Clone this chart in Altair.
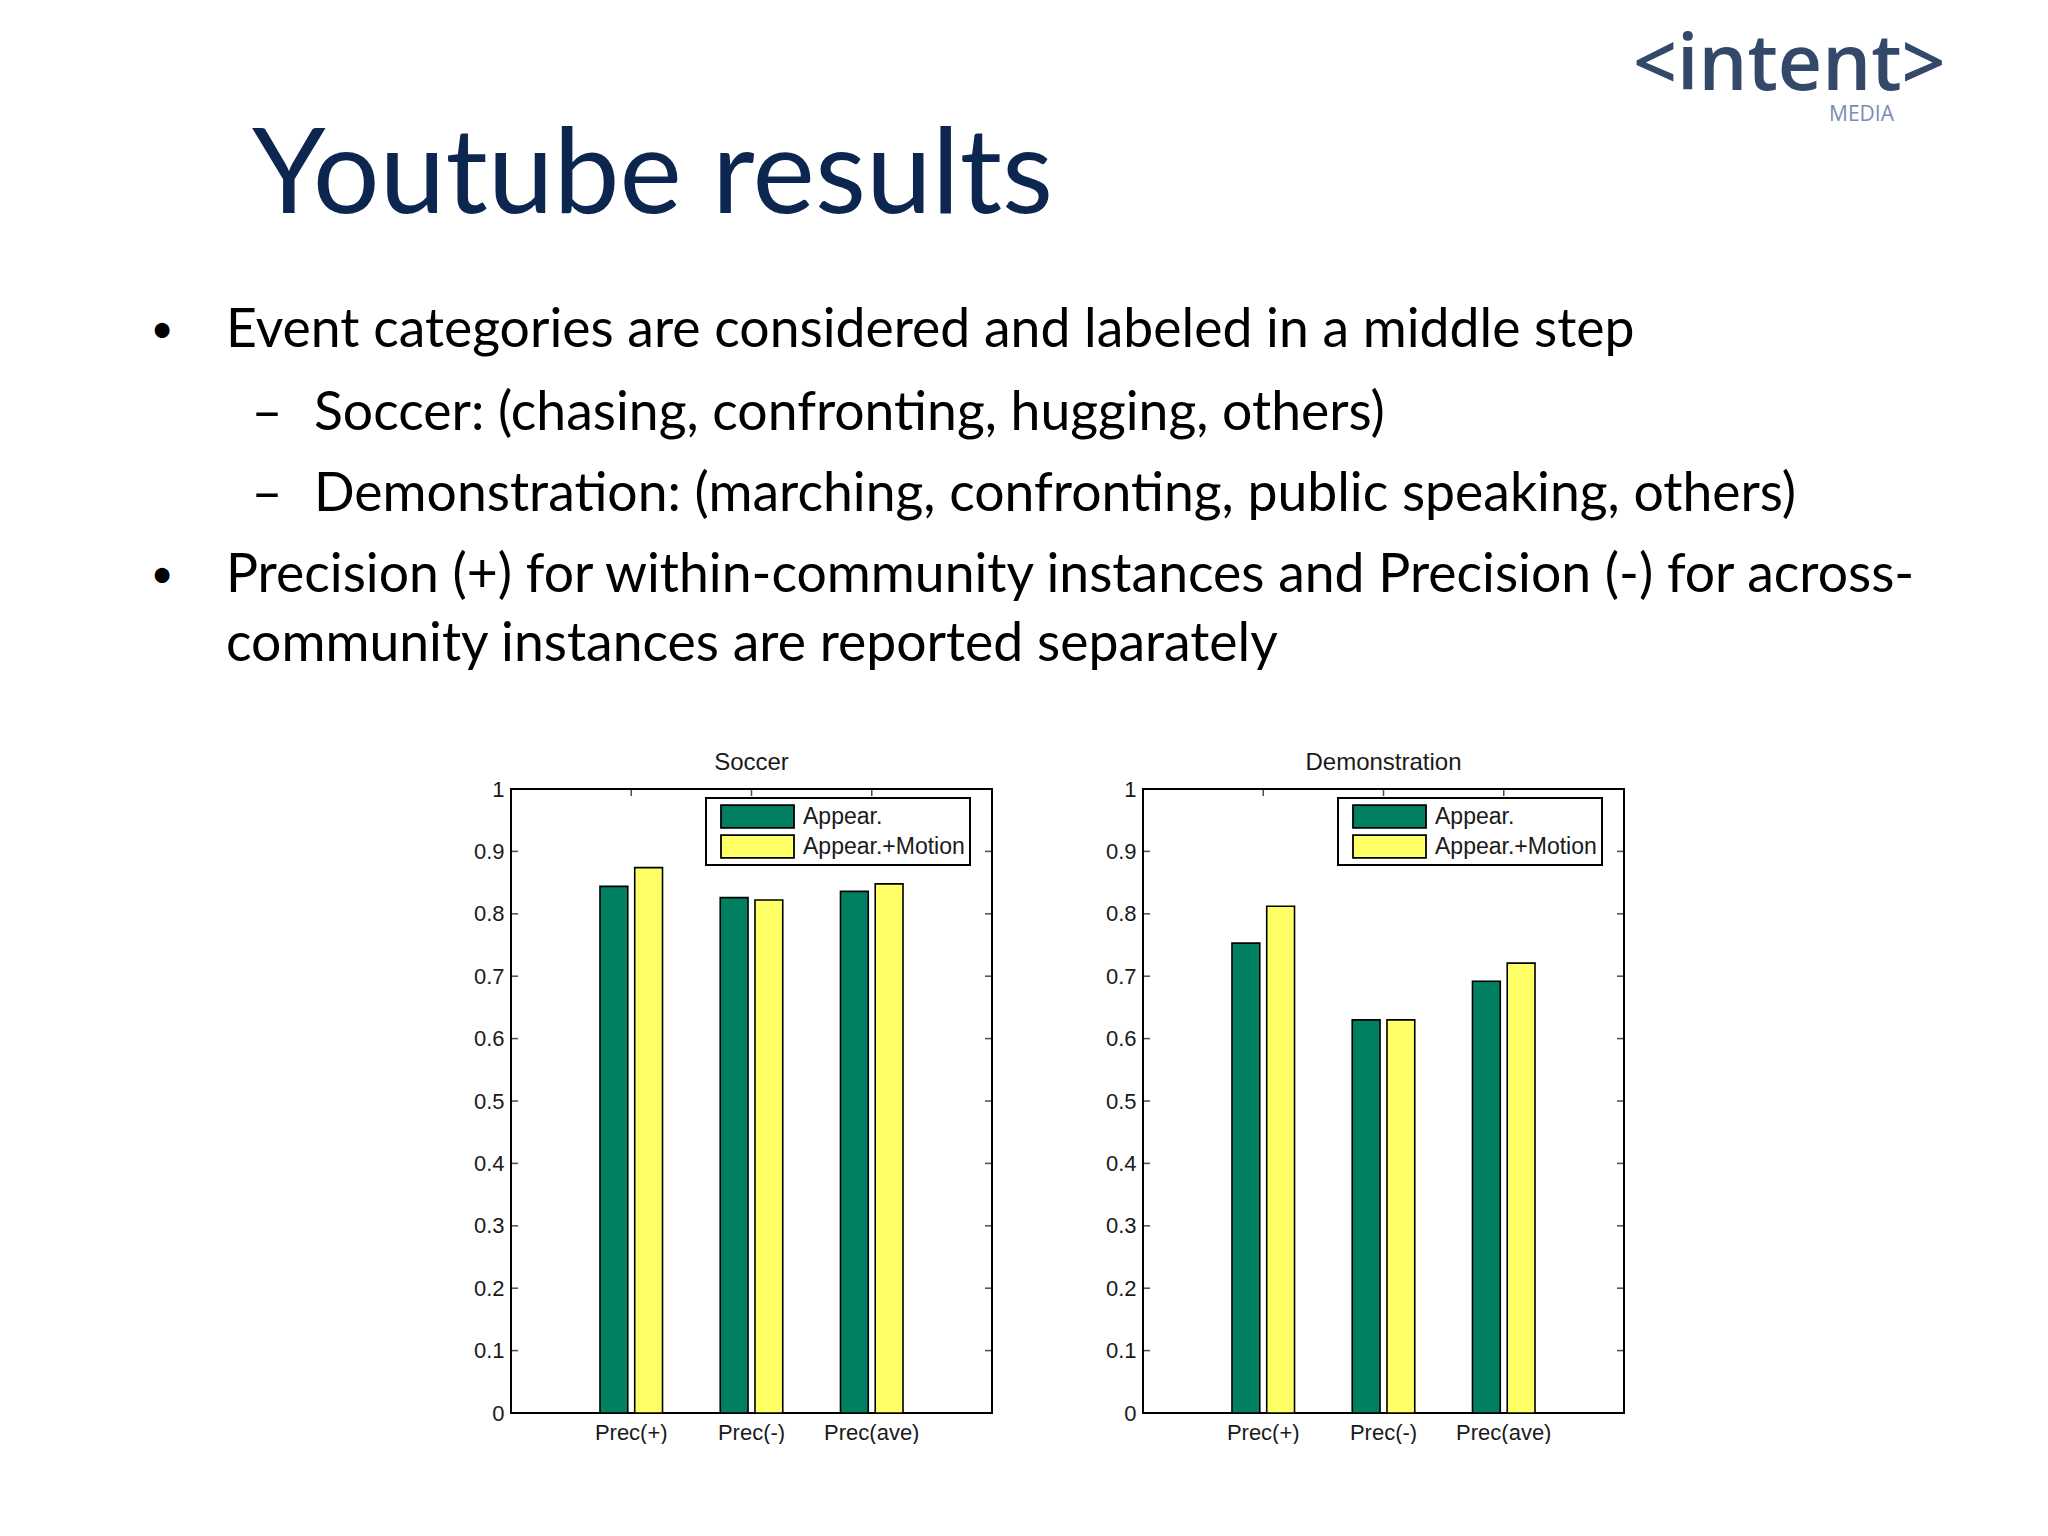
import altair as alt
import pandas as pd

# ---------------- data ----------------
categories = ["Prec(+)", "Prec(-)", "Prec(ave)"]
methods = ["Appear.", "Appear.+Motion"]
soccer_appear = [0.844, 0.826, 0.836]
soccer_motion = [0.874, 0.822, 0.848]
demo_appear = [0.753, 0.630, 0.692]
demo_motion = [0.812, 0.630, 0.721]
y_tick_values = [0, 0.1, 0.2, 0.3, 0.4, 0.5, 0.6, 0.7, 0.8, 0.9, 1.0]
bar_colors = ["#008060", "#ffff66"]

slide_title = "Youtube results"
bullet_lines = [
    "Event categories are considered and labeled in a middle step",
    "Soccer: (chasing, confronting, hugging, others)",
    "Demonstration: (marching, confronting, public speaking, others)",
    "Precision (+) for within-community instances and Precision (-) for across-",
    "community instances are reported separately",
]

PW, PH = 481, 624
AX_FONT = "Liberation Sans"
LBL = 22


def make_df(a, m):
    rows = []
    for c, va, vm in zip(categories, a, m):
        rows.append({"metric": c, "method": methods[0], "value": va})
        rows.append({"metric": c, "method": methods[1], "value": vm})
    return pd.DataFrame(rows)


def panel(title, a, m):
    df = make_df(a, m)
    xscale = alt.Scale(domain=categories, paddingInner=0.48, paddingOuter=0.74)
    xaxis = alt.Axis(title=None, labelAngle=0, ticks=False, domain=False,
                     labelFontSize=LBL, labelPadding=9, labelColor="#1a1a1a",
                     labelFont=AX_FONT)
    yscale = alt.Scale(domain=[0, 1], nice=False, zero=True)
    yaxis = alt.Axis(values=y_tick_values, format=".1~f", title=None, grid=False,
                     ticks=False, domain=False, labelFontSize=LBL, labelPadding=7,
                     labelColor="#1a1a1a", labelFont=AX_FONT)
    bars = alt.Chart(df).mark_bar(stroke="black", strokeWidth=1.6).encode(
        x=alt.X("metric:N", sort=categories, scale=xscale, axis=xaxis),
        xOffset=alt.XOffset("method:N", sort=methods, scale=alt.Scale(paddingInner=0.2)),
        y=alt.Y("value:Q", scale=yscale, axis=yaxis),
        color=alt.Color(
            "method:N", sort=methods,
            scale=alt.Scale(domain=methods, range=bar_colors),
            legend=alt.Legend(
                orient="none", legendX=195, legendY=9, title=None,
                strokeColor="black", fillColor="white", padding=5,
                symbolType="M-1,-0.31H1V0.31H-1Z", symbolSize=5329,
                symbolOffset=9,
                symbolStrokeColor="black", symbolStrokeWidth=1.8,
                symbolOpacity=1, labelFontSize=23, labelFont=AX_FONT,
                labelColor="#1a1a1a", labelOffset=8, labelLimit=400,
                rowPadding=3, clipHeight=27,
            ),
        ),
    )
    tick_df = pd.DataFrame({"v": y_tick_values})
    left_ticks = alt.Chart(tick_df).mark_tick(
        orient="horizontal", size=7, thickness=1.5, color="black"
    ).encode(y=alt.Y("v:Q", scale=yscale, axis=yaxis), x=alt.value(3.5))
    right_ticks = alt.Chart(tick_df).mark_tick(
        orient="horizontal", size=7, thickness=1.5, color="black"
    ).encode(y=alt.Y("v:Q", scale=yscale, axis=yaxis), x=alt.value(PW - 3.5))
    cat_df = pd.DataFrame({"metric": categories})
    top_ticks = alt.Chart(cat_df).mark_tick(
        orient="vertical", size=7, thickness=1.5, color="black"
    ).encode(x=alt.X("metric:N", sort=categories, scale=xscale, axis=xaxis),
             y=alt.value(3.5))
    return alt.layer(bars, left_ticks, right_ticks, top_ticks).properties(
        width=PW, height=PH,
        title=alt.TitleParams(title, fontSize=24, fontWeight="normal",
                              font=AX_FONT, color="#1a1a1a", offset=3),
        view=alt.ViewBackground(stroke="black", strokeWidth=2),
    )


one = alt.Data(values=[{"k": 1}])


def label(s, x, y, size, color="black", font="Lato", weight="normal", align="left"):
    return alt.Chart(one).mark_text(
        text=s, fontSize=size, font=font, fontWeight=weight, color=color,
        align=align, baseline="alphabetic"
    ).encode(x=alt.value(x), y=alt.value(y))


NAVY = "#0c2650"
BODY = 53.5
header_layers = [
    label(slide_title, 243, 204, 118, color=NAVY),
    label("<intent>", 1624, 81, 77, color="#34486a", font="Open Sans", weight=600),
    label("MEDIA", 1820, 112, 21, color="#7a8db0", font="Open Sans"),
    label("\u2022", 153, 334, 40, align="center"),
    label(bullet_lines[0], 217, 338, BODY),
    label("\u2013", 258, 421, BODY, align="center"),
    label(bullet_lines[1], 305, 421, BODY),
    label("\u2013", 258, 502, BODY, align="center"),
    label(bullet_lines[2], 305, 502, BODY),
    label("\u2022", 153, 579, 40, align="center"),
    label(bullet_lines[3], 217, 583, BODY),
    label(bullet_lines[4], 217, 652, BODY),
]
header = alt.layer(*header_layers).properties(width=2030, height=740)

spacer = alt.Chart(one).mark_text(text="").encode(
    x=alt.value(0), y=alt.value(0)).properties(width=351, height=10)

row = alt.hconcat(
    spacer,
    panel("Soccer", soccer_appear, soccer_motion),
    panel("Demonstration", demo_appear, demo_motion),
    spacing=151, bounds="flush",
).resolve_legend(color="independent")

chart = alt.vconcat(header, row, spacing=40, bounds="flush").resolve_legend(
    color="independent"
).properties(padding=0).configure(font=AX_FONT, background="white").configure_view(
    stroke="transparent"
).configure_legend(strokeWidth=2)

chart.save("out.html", embed_options={"renderer": "svg", "actions": False})
